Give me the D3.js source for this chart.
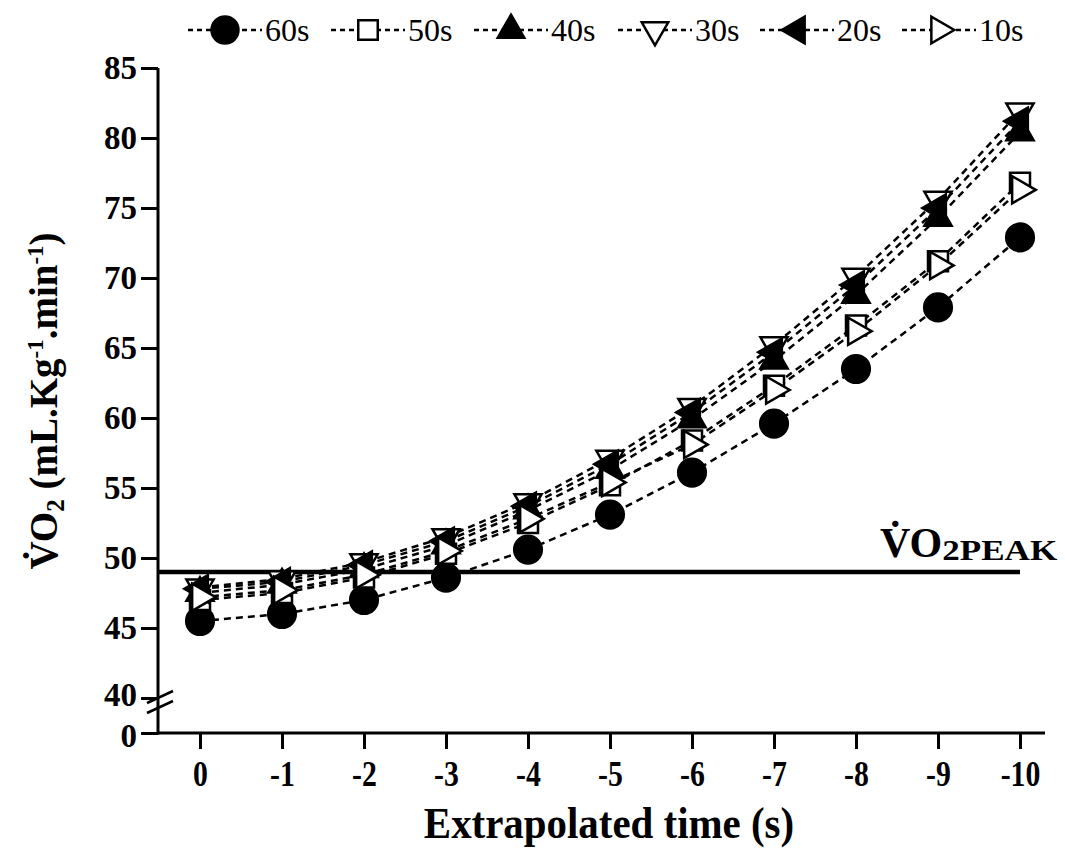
<!DOCTYPE html>
<html>
<head>
<meta charset="utf-8">
<script src="https://cdn.jsdelivr.net/npm/d3@7"></script>
<style>
body { margin: 0; background: #fff; }
svg { display: block; }
text { font-family: "Liberation Serif", "Times New Roman", serif; fill: #000; }
</style>
</head>
<body>
<svg id="chart"></svg>
<script>
// extrapolated time points (s)
var times = [0, -1, -2, -3, -4, -5, -6, -7, -8, -9, -10];
var timeLabels = ["0", "-1", "-2", "-3", "-4", "-5", "-6", "-7", "-8", "-9", "-10"];

var seriesNames = ["60s", "50s", "40s", "30s", "20s", "10s"];
var vo2_60 = [45.5, 46.0, 47.0, 48.6, 50.6, 53.1, 56.1, 59.6, 63.5, 67.9, 72.9];
var vo2_50 = [47.0, 47.5, 48.6, 50.3, 52.5, 55.2, 58.4, 62.3, 66.6, 71.2, 76.8];
var vo2_40 = [47.5, 48.1, 49.2, 50.9, 53.4, 56.3, 59.9, 64.1, 68.8, 74.3, 80.4];
var vo2_30 = [47.9, 48.5, 49.7, 51.5, 54.0, 57.1, 60.8, 65.2, 70.1, 75.6, 81.9];
var vo2_20 = [47.8, 48.3, 49.5, 51.2, 53.7, 56.7, 60.4, 64.7, 69.5, 75.0, 81.2];
var vo2_10 = [47.2, 47.7, 48.8, 50.5, 52.8, 55.4, 58.1, 62.0, 66.2, 70.9, 76.3];

var yTicks = [0, 40, 45, 50, 55, 60, 65, 70, 75, 80, 85];
var vo2Peak = 49.0;

var width = 1065, height = 856;
var svg = d3.select("#chart").attr("width", width).attr("height", height);

var x = d3.scaleLinear().domain([0, -10]).range([200, 1020]);
// broken axis: 0..40 squeezed
var y = d3.scaleLinear().domain([0, 40, 85]).range([733, 698, 68]);

var axisLeftX = 158, axisBottomY = 733;

// marker styles: symbol, rotation, filled
var markers = [
  {type: d3.symbolCircle, size: 600, rot: 0, fill: true},
  {type: d3.symbolSquare, size: 400, rot: 0, fill: false},
  {type: d3.symbolTriangle, size: 320, rot: 0, fill: true},
  {type: d3.symbolTriangle, size: 320, rot: 180, fill: false},
  {type: d3.symbolTriangle, size: 320, rot: -90, fill: true},
  {type: d3.symbolTriangle, size: 320, rot: 90, fill: false}
];

var allSeries = [vo2_60, vo2_50, vo2_40, vo2_30, vo2_20, vo2_10];

// VO2peak reference line
svg.append("line")
  .attr("x1", axisLeftX).attr("x2", x(-10))
  .attr("y1", y(vo2Peak)).attr("y2", y(vo2Peak))
  .attr("stroke", "#000").attr("stroke-width", 4.5);

var peakLabel = svg.append("text")
  .attr("x", 880).attr("y", 557)
  .style("font-weight", "bold").style("font-size", "42px");
peakLabel.append("tspan").text("V\u0307O");
peakLabel.append("tspan").attr("dy", 3).style("font-size", "29px")
  .attr("textLength", 115).attr("lengthAdjust", "spacingAndGlyphs").text("2PEAK");

// dashed lines
var line = d3.line()
  .x(function (d, i) { return x(times[i]); })
  .y(function (d) { return y(d); });

allSeries.forEach(function (vals) {
  svg.append("path")
    .attr("d", line(vals))
    .attr("fill", "none")
    .attr("stroke", "#000")
    .attr("stroke-width", 2.5)
    .attr("stroke-dasharray", "7,5");
});

function drawMarker(g, m, cx, cy, scale) {
  g.append("path")
    .attr("d", d3.symbol().type(m.type).size(m.size * (scale || 1))())
    .attr("transform", "translate(" + cx + "," + cy + ") rotate(" + m.rot + ")")
    .attr("fill", m.fill ? "#000" : "#fff")
    .attr("stroke", "#000")
    .attr("stroke-width", 2.5);
}

var markG = svg.append("g");
allSeries.forEach(function (vals, s) {
  vals.forEach(function (v, i) {
    drawMarker(markG, markers[s], x(times[i]), y(v));
  });
});

// axes
var xAxis = d3.axisBottom(x).tickValues(times)
  .tickFormat(function (d, i) { return timeLabels[i]; })
  .tickSize(16);
var gx = svg.append("g").attr("transform", "translate(0," + axisBottomY + ")").call(xAxis);
gx.select(".domain").remove();
gx.append("line").attr("x1", axisLeftX).attr("x2", 1045).attr("y1", 0).attr("y2", 0)
  .attr("stroke", "#000").attr("stroke-width", 3);
gx.selectAll(".tick line").attr("stroke-width", 3);
gx.selectAll(".tick text")
  .style("font-family", "'Liberation Serif', serif")
  .style("font-weight", "bold").style("font-size", "35px")
  .attr("y", 0).attr("dy", 0)
  .attr("transform", "translate(0,53) scale(0.85,1)");

var yAxis = d3.axisLeft(y).tickValues(yTicks).tickSize(17).tickPadding(4);
var gy = svg.append("g").attr("transform", "translate(" + axisLeftX + ",0)").call(yAxis);
gy.select(".domain").remove();
gy.append("line").attr("x1", 0).attr("x2", 0).attr("y1", y(85)).attr("y2", axisBottomY + 1.5)
  .attr("stroke", "#000").attr("stroke-width", 3);
gy.selectAll(".tick line").attr("stroke-width", 3);
gy.selectAll(".tick text")
  .style("font-family", "'Liberation Serif', serif")
  .style("font-weight", "bold").style("font-size", "33px")
  .attr("y", function (d) { return d === 0 ? 3 : (d === 40 ? -3 : 0); });

// axis break marks
var brk = svg.append("g").attr("stroke", "#000").attr("stroke-width", 2.5);
brk.append("line").attr("x1", axisLeftX - 11).attr("y1", y(40) + 5).attr("x2", axisLeftX + 15).attr("y2", y(40) - 7);
brk.append("line").attr("x1", axisLeftX - 11).attr("y1", y(40) + 15).attr("x2", axisLeftX + 15).attr("y2", y(40) + 3);

// axis titles
svg.append("text")
  .attr("transform", "translate(609,838) scale(0.93,1)")
  .attr("text-anchor", "middle")
  .style("font-weight", "bold").style("font-size", "44px")
  .text("Extrapolated time (s)");

var yt = svg.append("text")
  .attr("transform", "translate(57,401) rotate(-90)")
  .attr("text-anchor", "middle")
  .style("font-weight", "bold").style("font-size", "39px");
yt.append("tspan").text("V\u0307O");
yt.append("tspan").attr("dy", 7).style("font-size", "25px").text("2");
yt.append("tspan").attr("dy", -7).text(" (mL.Kg");
yt.append("tspan").attr("dy", -14).style("font-size", "23px").text("-1");
yt.append("tspan").attr("dy", 14).text(".min");
yt.append("tspan").attr("dy", -14).style("font-size", "23px").text("-1");
yt.append("tspan").attr("dy", 14).text(")");

// legend
var legendX = [188, 331, 474, 618, 760, 902];
var legend = svg.append("g");
seriesNames.forEach(function (name, s) {
  var lx = legendX[s], ly = 30;
  legend.append("line")
    .attr("x1", lx).attr("x2", lx + 74).attr("y1", ly).attr("y2", ly)
    .attr("stroke", "#000").attr("stroke-width", 2.5).attr("stroke-dasharray", "5,4");
  drawMarker(legend, markers[s], lx + 37, ly, 0.95);
  legend.append("text")
    .attr("x", lx + 77).attr("y", ly + 11)
    .style("font-size", "32px")
    .text(name);
});
</script>
</body>
</html>
